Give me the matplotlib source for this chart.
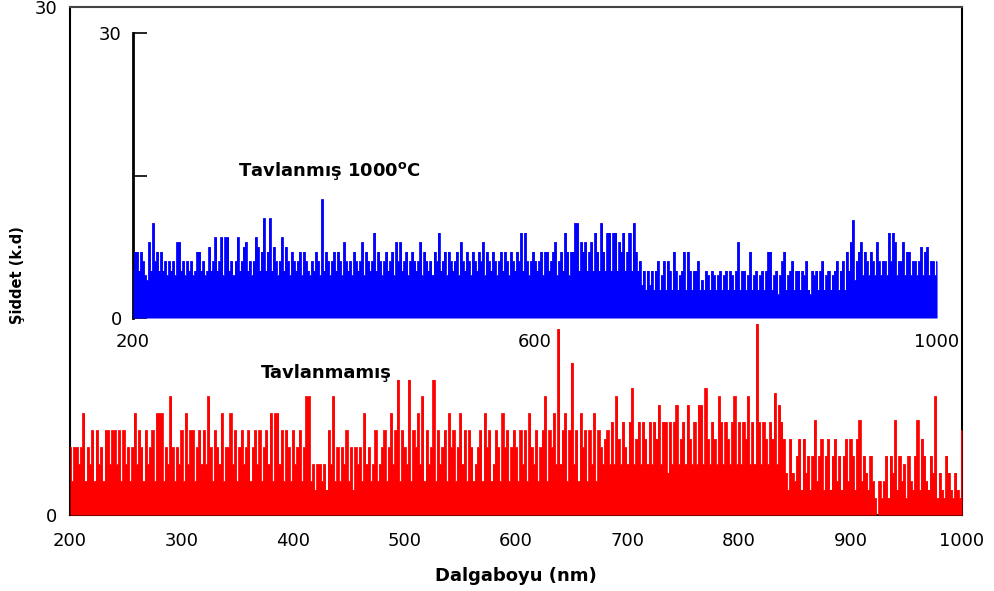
import matplotlib
matplotlib.use("Agg")
import matplotlib.pyplot as plt
import numpy as np

# wavelength grid (nm), 2 nm sampling
wavelength = np.arange(200, 1001, 2)

# Tavlanmamis (red, outer axes) intensity
red_counts = [
    4, 2, 4, 4, 3, 4, 6, 2, 4, 3, 5, 2, 5, 3, 4, 2, 5, 5, 3, 5,
    5, 3, 5, 2, 5, 3, 4, 2, 4, 6, 3, 5, 4, 2, 5, 3, 4, 5, 2, 6,
    6, 6, 2, 4, 3, 7, 4, 2, 4, 3, 5, 2, 6, 3, 5, 5, 2, 4, 5, 3,
    5, 3, 7, 4, 2, 5, 4, 3, 6, 2, 4, 4, 6, 3, 5, 2, 4, 5, 3, 4,
    5, 2, 4, 5, 3, 5, 2, 4, 5, 3, 6, 2, 6, 6, 3, 5, 2, 5, 4, 2,
    5, 3, 4, 5, 2, 4, 7, 7, 2, 3, 1.5, 3, 3, 2, 3, 1.5, 5, 3, 7, 2,
    4, 2, 4, 3, 5, 2, 4, 1.5, 4, 3, 4, 2, 6, 3, 4, 2, 3, 5, 2, 3,
    4, 5, 2, 4, 6, 3, 5, 8, 2, 5, 4, 3, 8, 2, 5, 4, 6, 3, 7, 2,
    5, 3, 4, 8, 2, 5, 3, 4, 5, 2, 6, 4, 5, 2, 4, 6, 3, 5, 2, 5,
    4, 2, 3, 4, 5, 2, 6, 4, 5, 2, 3, 5, 4, 2, 6, 4, 5, 2, 4, 5,
    4, 2, 5, 3, 5, 2, 6, 4, 3, 5, 2, 4, 5, 7, 2, 5, 4, 6, 3, 11,
    3, 5, 6, 2, 5, 9, 3, 5, 2, 6, 4, 5, 2, 5, 3, 6, 2, 5, 4, 3,
    4.5, 5, 3, 5.5, 3, 7, 4.5, 3, 5.5, 4, 3, 5.5, 7.5, 3, 4.5, 5.5, 3, 5.5, 4.5, 3,
    5.5, 3, 5.5, 4.5, 6.5, 3, 5.5, 5.5, 2.5, 5.5, 3, 5.5, 6.5, 3, 4.5, 5.5, 3, 6.5, 4.5, 3,
    5.5, 3, 6.5, 6.5, 3, 7.5, 4.5, 3, 5.5, 4.5, 3, 7, 5.5, 3, 5.5, 4.5, 3, 5.5, 7, 3,
    5.5, 3, 5.5, 4.5, 7, 3, 5.5, 3, 11.3, 5.5, 3, 5.5, 4.5, 3, 5.5, 4.5, 7.2, 3, 6.5, 5.5,
    4.5, 2.5, 1.5, 4.5, 2.5, 2, 3.5, 4.5, 1.5, 4.5, 2.5, 3.5, 1.5, 3.5, 5.6, 2, 3.5, 4.5, 1.5, 3.5,
    4.5, 1.5, 3.5, 4.5, 2, 3.5, 1.5, 3.5, 4.5, 2, 4.5, 3.5, 1.5, 4.5, 5.6, 2, 3.5, 2.5, 1.5, 3.5,
    2, 1, 0, 2, 1, 2, 3.5, 1, 3.5, 2.5, 5.6, 1.5, 3.5, 2, 3, 1, 3.5, 2, 1.5, 3.5,
    5.6, 1.5, 4.5, 3.5, 2, 1.5, 3.5, 2.5, 7, 1, 2.5, 1.5, 1, 3.5, 2.5, 1.5, 1, 2.5, 1.5, 1,
    5,
]

# Tavlanmis 1000 C (blue, inner axes)
blue_counts = [
    5, 7, 7, 5, 7, 6, 4.5, 4, 8, 5, 10, 6, 7, 5, 7, 5, 6, 4.5, 6, 5,
    6, 4.5, 8, 8, 5, 6, 4.5, 6, 5, 6, 4.5, 5, 7, 7, 5, 6, 4.5, 5, 7.5, 5,
    6, 8.5, 5, 6, 8.5, 4.5, 8.5, 8.5, 5, 6, 4.5, 6, 8.5, 5, 6, 7.5, 8, 5, 6, 4.5,
    6, 8.5, 7.5, 5, 7, 10.5, 5, 7, 10.5, 5, 7.5, 6, 4.5, 6, 8.5, 5, 7.5, 6, 4.5, 7,
    6, 5, 6, 7, 4.5, 7, 6, 5, 4.5, 6, 5, 7, 6, 4.5, 12.5, 5, 7, 6, 4.5, 6,
    7, 5, 7, 6, 4.5, 8, 6, 5, 6, 4.5, 7, 6, 5, 6, 8, 4.5, 7, 6, 5, 6,
    9, 5, 7, 6, 4.5, 6, 7, 5, 6, 7, 4.5, 8, 6, 8, 5, 6, 7, 4.5, 6, 7,
    6, 5, 6, 8, 4.5, 7, 6, 5, 6, 4.5, 7, 6, 9, 5, 6, 7, 4.5, 7, 6, 5,
    6, 7, 4.5, 8, 6, 5, 7, 6, 4.5, 7, 6, 5, 7, 6, 8, 4.5, 7, 6, 5, 7,
    6, 4.5, 6, 7, 5, 7, 6, 4.5, 7, 6, 5, 7, 6, 9, 5, 9, 6, 4.5, 6, 7,
    6, 5, 6, 7, 4.5, 7, 7, 5, 6, 7, 8, 4.5, 6, 7, 5, 9, 7, 4.5, 7, 7,
    10, 10, 5, 8, 7, 8, 5, 7, 8, 5, 9, 7, 5, 10, 7, 5, 9, 9, 5, 9,
    9, 5, 8, 7, 9, 5, 7, 9, 5, 10, 7, 5, 6, 3.5, 5, 3, 5, 3.5, 5, 3,
    5, 6, 3, 4.5, 6, 3, 6, 5, 3, 7, 5, 3, 4.5, 5, 7, 3, 7, 5, 3, 5,
    5, 6, 3, 4, 3, 5, 4.5, 3, 5, 4.5, 3, 4.5, 5, 3, 4.5, 5, 3, 5, 4.5, 3,
    5, 8, 3, 5, 5, 3, 4.5, 7, 3, 4.5, 5, 3, 4.5, 5, 3, 5, 7, 7, 3, 4.5,
    5, 2.5, 4.5, 6, 7, 3, 4.5, 5, 6, 3, 5, 5, 3, 5, 4.5, 6, 3, 2.5, 5, 4.5,
    5, 3, 5, 6, 3, 4.5, 5, 3, 4.5, 5, 6, 3, 5, 6, 3, 7, 5, 8, 10.3, 4,
    6, 7, 8, 4.5, 7, 6, 4.5, 7, 6, 4.5, 8, 6, 4.5, 6, 6, 4.5, 9, 6, 9, 8,
    4.5, 6, 6, 8, 4.5, 7, 7, 4.5, 6, 6, 4.5, 6, 7.5, 4.5, 7, 7.5, 4.5, 6, 6, 4.5,
    6,
]

outer_xticks = [200, 300, 400, 500, 600, 700, 800, 900, 1000]
inner_xticks = [200, 600, 1000]

plt.rcParams["font.family"] = ["DejaVu Sans"]

fig = plt.figure(figsize=(9.94, 5.91), dpi=100)

# outer axes: unannealed sample
ax = fig.add_axes([0.0704, 0.1286, 0.8974, 0.8596])
ax.fill_between(wavelength, red_counts, step="mid", color="#ff0000", lw=0, zorder=3)
ax.plot(wavelength, red_counts, drawstyle="steps-mid", color="#ff0000", lw=0.6, zorder=3)
ax.set_xlim(200, 1000)
ax.set_ylim(0, 30)
ax.set_xticks(outer_xticks)
ax.set_yticks([0, 30])
ax.tick_params(direction="in", length=0, labelsize=13, pad=12)
ax.tick_params(axis="y", pad=9)
for side in ["left", "top", "right", "bottom"]:
    ax.spines[side].set_linewidth(1.5)
ax.spines["top"].set_color("#444444")

# inner axes: annealed at 1000 C
ax2 = fig.add_axes([0.1338, 0.4619, 0.8089, 0.4822])
ax2.patch.set_alpha(0)
ax2.fill_between(wavelength, blue_counts, step="mid", color="#0000ff", lw=0, zorder=3)
ax2.plot(wavelength, blue_counts, drawstyle="steps-mid", color="#0000ff", lw=0.6, zorder=3)
ax2.set_xlim(200, 1000)
ax2.set_ylim(0, 30)
ax2.set_xticks(inner_xticks)
ax2.set_yticks([0, 15, 30])
ax2.set_yticklabels(["0", "", "30"])
ax2.tick_params(direction="in", length=10, width=1.2, labelsize=13)
ax2.tick_params(axis="x", length=0, pad=11)
ax2.tick_params(axis="y", pad=8)
for side in ["top", "right", "bottom"]:
    ax2.spines[side].set_visible(False)
ax2.spines["left"].set_linewidth(2)

fig.text(0.3310, 1 - 171 / 591, "Tavlanmış 1000$^\\mathbf{o}$C", fontsize=13,
         fontweight="bold", ha="center", va="center")
fig.text(0.3280, 1 - 373 / 591, "Tavlanmamış", fontsize=13,
         fontweight="bold", ha="center", va="center")

fig.text(516 / 994, 1 - 576 / 591, "Dalgaboyu (nm)", fontsize=13,
         fontweight="bold", ha="center", va="center")
fig.text(18 / 994, 1 - 275 / 591, "Şiddet (k.d)", fontsize=10.5,
         fontweight="bold", ha="center", va="center", rotation=90)

fig.savefig("out.png", dpi=100)
